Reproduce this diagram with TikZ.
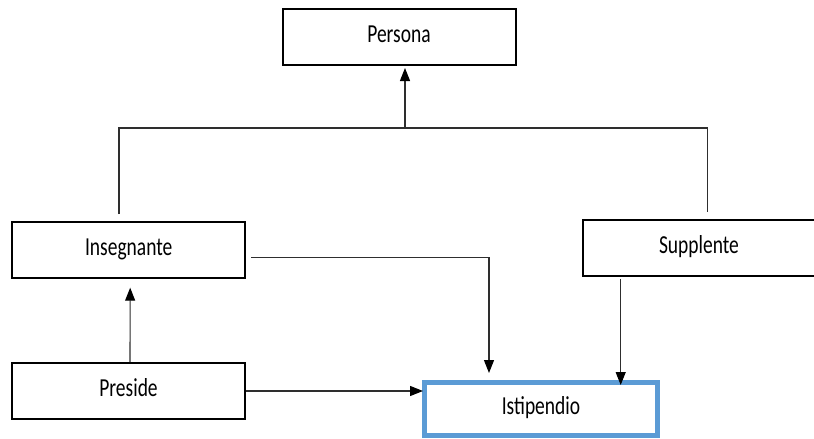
\documentclass[tikz,border=0pt]{standalone}
\usepackage{fontspec}
\setmainfont{Carlito}
\usetikzlibrary{arrows.meta}
\definecolor{bluebox}{HTML}{5B9BD5}
\definecolor{linec}{HTML}{2E2E2E}
\newcommand{\tallt}[1]{\scalebox{1}[1.33]{#1}}
\tikzset{
  box/.style={draw=black, line width=2pt, rectangle, inner sep=0pt,
    minimum width=233pt, minimum height=56pt,
    font=\fontsize{19.5}{22}\selectfont, text height=14.5pt, text depth=4.5pt},
  bluebx/.style={box, draw=bluebox, line width=5pt, minimum height=53pt},
  conn/.style={draw=linec, line width=1.1pt},
  arr/.style={conn, -{Triangle[length=13pt,width=10pt,black]}},
}
\begin{document}
\begin{tikzpicture}[x=1pt,y=-1pt]
\useasboundingbox (0,0) rectangle (814,439);
\fill[white] (0,0) rectangle (814,439);
\begin{scope}
\clip (0,0) rectangle (814,439);
\node[box] (per) at (399,37) {\tallt{Persona}};
\node[box] (ins) at (128.7,250.2) {\tallt{Insegnante}};
\node[box] (sup) at (699,248) {\tallt{Supplente}};
\node[box] (pre) at (128.5,391) {\tallt{Preside}};
\node[bluebx] (ist) at (541,409) {\tallt{Istipendio}};
\end{scope}
% inheritance junction
\coordinate (jl) at (119,128);
\coordinate (jr) at (707.7,128);
\coordinate (jm) at (405,128);
\draw[conn, shorten <=7pt, shorten >=7pt] (ins.north -| jl) -- (jl) -- (jr) -- (sup.north -| jr);
\draw[arr, shorten >=2pt] (jm) -- (per.south -| jm);
% associations
\draw[arr, shorten <=5pt, shorten >=7pt] ([yshift=-7.5pt]ins.east) -| ([xshift=-52pt]ist.north);
\draw[arr, shorten <=2pt, shorten >=-5pt] ([xshift=-78.3pt]sup.south) -- ([xshift=-78.3pt]sup.south |- ist.north);
\draw[arr, shorten >=8.5pt] ([xshift=1.5pt]pre.north) -- ([xshift=1.5pt]ins.south);
\draw[arr, shorten >=-1pt] (pre.east) -- (pre.east -| ist.west);
\end{tikzpicture}
\end{document}
